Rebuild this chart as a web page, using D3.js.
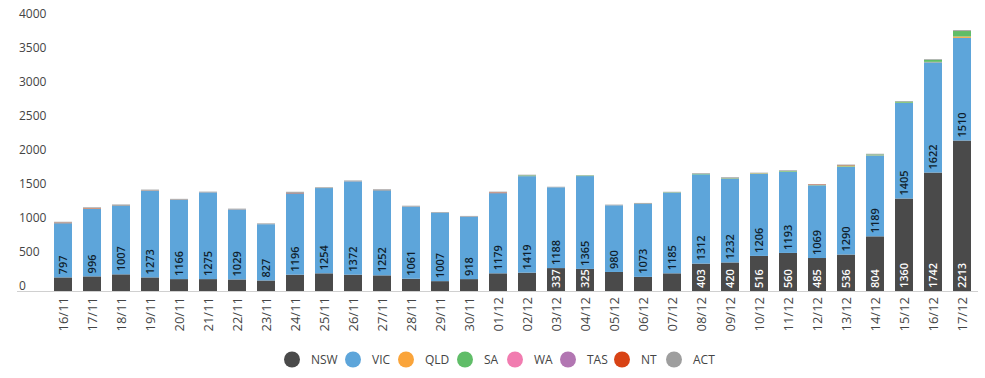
<!DOCTYPE html>
<html>
<head>
<meta charset="utf-8">
<script src="https://cdn.jsdelivr.net/npm/d3@7"></script>
<style>
  body { margin: 0; background: #fff; }
  svg { display: block; font-family: "Open Sans", sans-serif; }
</style>
</head>
<body>
<div id="chart"></div>
<script>
var dates = ["16/11", "17/11", "18/11", "19/11", "20/11", "21/11", "22/11", "23/11", "24/11", "25/11",
    "26/11", "27/11", "28/11", "29/11", "30/11", "01/12", "02/12", "03/12", "04/12", "05/12",
    "06/12", "07/12", "08/12", "09/12", "10/12", "11/12", "12/12", "13/12", "14/12", "15/12",
    "16/12", "17/12"];

var states = ["NSW", "VIC", "QLD", "SA", "WA", "TAS", "NT", "ACT"];
var colors = ["#4a4a4a", "#5da5da", "#faa43a", "#60bd68", "#f17cb0", "#b276b2", "#d84315", "#9e9e9e"];

var nsw = [200, 215, 245, 200, 175, 175, 170, 155, 240, 260, 240, 230, 180, 145, 175, 260, 270,
    337, 325, 280, 208, 260, 403, 420, 516, 560, 485, 536, 804, 1360, 1742, 2213];
var vic = [797, 996, 1007, 1273, 1166, 1275, 1029, 827, 1196, 1254, 1372, 1252, 1061, 1007, 918,
    1179, 1419, 1188, 1365, 980, 1073, 1185, 1312, 1232, 1206, 1193, 1069, 1290, 1189, 1405, 1622, 1510];
var qld = [1, 3, 0, 0, 0, 0, 0, 0, 0, 1, 0, 2, 0, 0, 0, 0, 1, 0, 0, 0, 0, 0, 0, 1, 6, 3, 2, 6, 3, 4, 6, 20];
var sa = [0, 0, 0, 0, 0, 0, 0, 0, 0, 0, 0, 0, 0, 0, 0, 0, 10, 0, 8, 0, 2, 6, 7, 6, 4, 9, 3, 12, 12, 17, 30, 80];
var wa = [0, 0, 0, 0, 0, 0, 0, 0, 0, 0, 0, 0, 0, 0, 0, 0, 0, 0, 0, 0, 0, 0, 0, 0, 0, 0, 0, 0, 0, 0, 0, 0];
var tas = [0, 0, 0, 0, 0, 0, 0, 0, 0, 0, 0, 0, 0, 0, 0, 0, 0, 0, 0, 0, 0, 0, 0, 0, 0, 0, 0, 1, 0, 0, 0, 0];
var nt = [8, 6, 0, 3, 2, 1, 2, 0, 8, 0, 1, 2, 1, 0, 1, 10, 0, 0, 0, 0, 0, 0, 0, 1, 0, 0, 8, 6, 0, 0, 0, 1];
var act = [12, 10, 20, 15, 12, 10, 10, 12, 15, 10, 12, 10, 12, 10, 10, 12, 10, 8, 5, 10, 12, 8, 10, 12,
    8, 10, 6, 8, 10, 8, 10, 12];

var yTicks = [0, 500, 1000, 1500, 2000, 2500, 3000, 3500, 4000];

var series = [nsw, vic, qld, sa, wa, tas, nt, act];
var rows = dates.map(function (d, i) {
    var r = { date: d };
    states.forEach(function (s, k) { r[s] = series[k][i]; });
    return r;
});

var width = 985, height = 378;

var svg = d3.select("#chart")
    .append("svg")
    .attr("width", width)
    .attr("height", height);

var x = d3.scaleBand().domain(dates).range([48.5, 976.5]).paddingInner(0.38).paddingOuter(0.19);
var y = d3.scaleLinear().domain([0, 4000]).range([291, 19]);
var color = d3.scaleOrdinal().domain(states).range(colors);

var stacked = d3.stack().keys(states)(rows);

// y labels (no axis line)
svg.append("g")
    .selectAll("text")
    .data(yTicks)
    .enter()
    .append("text")
    .attr("x", 19)
    .attr("y", function (d) { return y(d) - 5; })
    .attr("dy", "0.35em")
    .style("font-size", "12px")
    .style("fill", "#444")
    .text(function (d) { return d; });

// bars
var layers = svg.append("g")
    .selectAll("g")
    .data(stacked)
    .enter()
    .append("g")
    .attr("fill", function (d) { return color(d.key); });

layers.selectAll("rect")
    .data(function (d) { return d; })
    .enter()
    .append("rect")
    .attr("x", function (d) { return x(d.data.date); })
    .attr("width", x.bandwidth())
    .attr("y", function (d) { return y(d[1]); })
    .attr("height", function (d) { return y(d[0]) - y(d[1]); });

// x axis line
svg.append("line")
    .attr("x1", 17).attr("x2", 978)
    .attr("y1", 291.5).attr("y2", 291.5)
    .attr("stroke", "#d0d0d0")
    .attr("stroke-width", 1);

// x labels
svg.append("g")
    .selectAll("text")
    .data(dates)
    .enter()
    .append("text")
    .attr("transform", function (d) {
        return "translate(" + (x(d) + x.bandwidth() / 2) + ",297) rotate(-90)";
    })
    .attr("text-anchor", "end")
    .attr("dy", "0.35em")
    .style("font-size", "13px")
    .style("fill", "#444")
    .text(function (d) { return d; });

// value labels for NSW and VIC, inside base
var labelColors = { NSW: "#fff", VIC: "#0f1e2c" };
stacked.slice(0, 2).forEach(function (layer) {
    var g = svg.append("g");
    layer.forEach(function (d) {
        var h = y(d[0]) - y(d[1]);
        var t = g.append("text")
            .attr("transform", "translate(" + (x(d.data.date) + x.bandwidth() / 2) + "," + (y(d[0]) - 3) + ") rotate(-90)")
            .attr("dy", "0.35em")
            .style("font-size", "11px")
            .style("font-weight", 600)
            .style("fill", labelColors[layer.key])
            .text(d.data[layer.key]);
        if (t.node().getComputedTextLength() + 1 > h) t.remove();
    });
});

// legend
var legendX = [292, 353, 406, 465, 515, 568, 622, 674];
var legend = svg.append("g")
    .selectAll("g")
    .data(states)
    .enter()
    .append("g")
    .attr("transform", function (d, i) { return "translate(" + legendX[i] + ",359.5)"; });

legend.append("circle")
    .attr("r", 8)
    .attr("fill", function (d) { return color(d); });

legend.append("text")
    .attr("x", 19)
    .attr("dy", "0.35em")
    .style("font-size", "12px")
    .style("fill", "#444")
    .text(function (d) { return d; });
</script>
</body>
</html>
